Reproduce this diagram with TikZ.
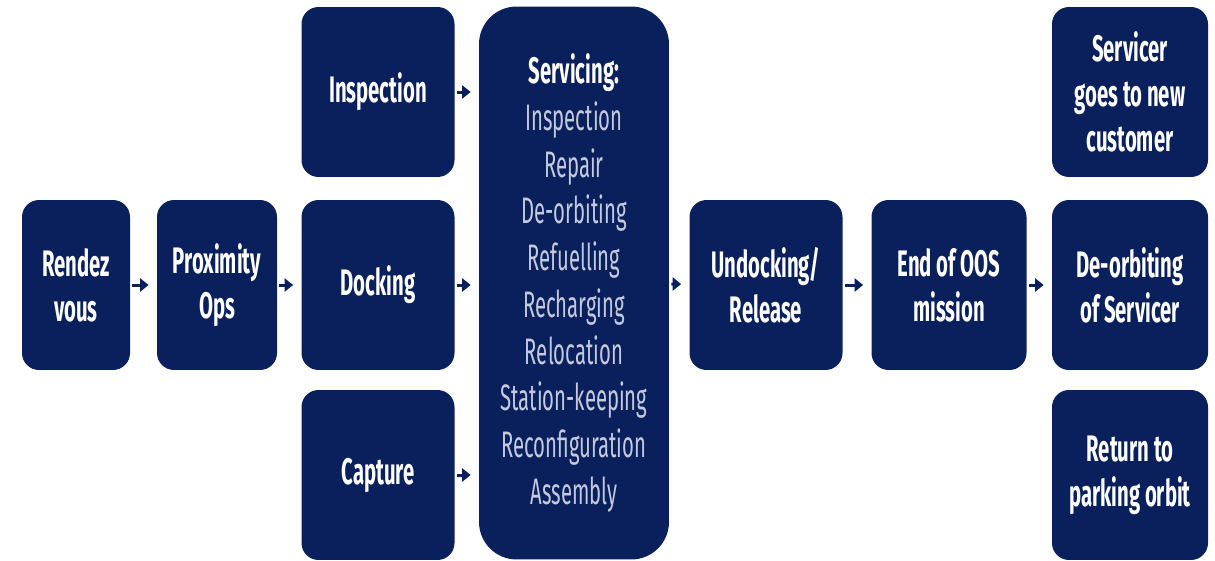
\documentclass[tikz,border=0pt]{standalone}
\usepackage{fontspec}
\setmainfont{Fira Sans}[FakeStretch=0.55]
\usetikzlibrary{arrows.meta}
\definecolor{navy}{RGB}{10,32,92}
\definecolor{listgray}{RGB}{196,202,222}
\begin{document}
\begin{tikzpicture}
[x=0.02cm,y=-0.02cm,
 boxdecorate/.style={shape=rectangle,fill=navy,rounded corners=0.34cm,inner sep=0pt,%
   minimum height=3.4cm,align=center,text=white,%
   font=\fontsize{21}{25.6}\selectfont\bfseries},
 servdecorate/.style={boxdecorate,rounded corners=0.75cm,text=listgray,%
   font=\fontsize{21}{26.6}\selectfont},
 arrowdecorate/.style={-{Triangle[length=0.17cm,width=0.26cm]},line width=0.06cm,%
   draw=navy,shorten <=0.04cm,shorten >=0.16cm}]
\useasboundingbox (0,0) rectangle (1215,561);
%% boxes
\foreach \nodename/\x/\y/\w/\label in {rendez/76/285/108/{Rendez\\vous},
  proximity/217/285/120/{Proximity\\Ops}, inspection/378/92/153/{Inspection},
  docking/378/285/153/{Docking}, capture/378/475/153/{Capture},
  undocking/766/285/153/{Undocking/\\Release}, endoos/949/285/155/{End of OOS\\mission},
  newcustomer/1130/92/156/{Servicer\\goes to new\\customer},
  deorbiting/1130/285/156/{De-orbiting\\of Servicer},
  parking/1130/475/156/{Return to\\parking orbit}}
{
  \node (\nodename) at (\x,\y) [boxdecorate,minimum width=\w*0.02cm] {\label};
}
\node (servicing) at (574,283) [servdecorate,minimum width=3.8cm,minimum height=11.06cm]
  {\textbf{\textcolor{white}{Servicing:}}\\Inspection\\Repair\\De-orbiting\\Refuelling\\%
   Recharging\\Relocation\\Station-keeping\\Reconfiguration\\Assembly};
%% arrows
\path
\foreach \startnode/\endnode in {rendez/proximity, proximity/docking,
  servicing/undocking, undocking/endoos, endoos/deorbiting}
{
  (\startnode) edge[arrowdecorate] (\endnode)
}
\foreach \startnode in {inspection, docking, capture}
{
  (\startnode.east) edge[arrowdecorate] (\startnode.east -| servicing.west)
};
\end{tikzpicture}
\end{document}
